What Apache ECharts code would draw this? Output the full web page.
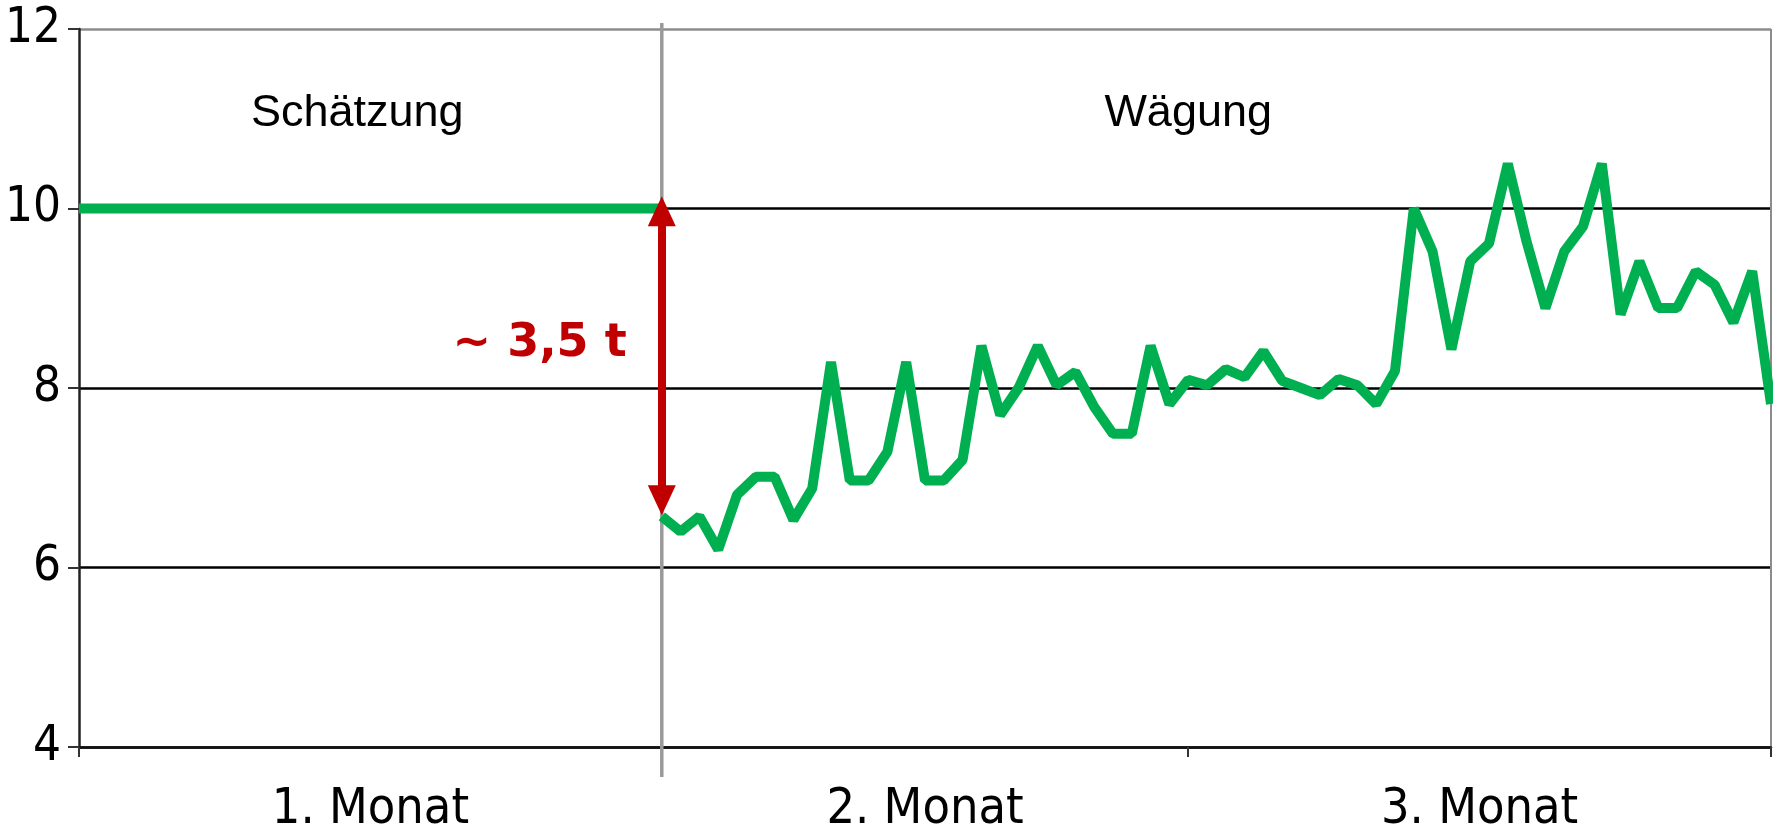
<!DOCTYPE html>
<html>
<head>
<meta charset="utf-8">
<script src="https://cdn.jsdelivr.net/npm/echarts@6/dist/echarts.min.js"></script>
<style>
html,body{margin:0;padding:0;background:#ffffff;}
#chart{width:1773px;height:835px;}
</style>
</head>
<body>
<div id="chart"></div>
<script>
// ---- data ----
const monthLabels = ['1. Monat', '2. Monat', '3. Monat'];
const monthDays = [31, 28, 31];
const yMin = 4;
const yMax = 12;
const yStep = 2;

const schaetzungStartDay = 0;
const schaetzungValues = [10, 10, 10, 10, 10, 10, 10, 10, 10, 10, 10, 10, 10, 10, 10, 10,
                          10, 10, 10, 10, 10, 10, 10, 10, 10, 10, 10, 10, 10, 10, 10, 10];

const waegungStartDay = 31;
const waegungValues = [6.57, 6.40, 6.57, 6.20, 6.81, 7.01, 7.01, 6.53, 6.88, 8.29,
                       6.97, 6.97, 7.29, 8.29, 6.97, 6.97, 7.20, 8.47, 7.70, 8.01,
                       8.47, 8.03, 8.18, 7.79, 7.49, 7.49, 8.47, 7.82, 8.09, 8.03,
                       8.21, 8.12, 8.41, 8.08, 8.00, 7.92, 8.10, 8.03, 7.82, 8.19,
                       10.00, 9.52, 8.43, 9.41, 9.61, 10.50, 9.63, 8.89, 9.52, 9.80,
                       10.50, 8.82, 9.41, 8.89, 8.89, 9.30, 9.15, 8.73, 9.30, 7.82];

const separatorDay = 31;
const arrowDay = 31;
const arrowFrom = 9.97;
const arrowTo = 6.75;
const arrowText = '~ 3,5 t';
const arrowTextPos = [24.5, 8.49];
const phaseTexts = ['Schätzung', 'Wägung'];
const phaseTextPos = [[14.8, 11.06], [59.0, 11.06]];

// ---- derived ----
const monthBounds = [0];
monthDays.forEach(d => monthBounds.push(monthBounds[monthBounds.length - 1] + d));
const monthCenters = monthDays.map((d, i) => monthBounds[i] + d / 2);
const totalDays = monthBounds[monthBounds.length - 1];
const schaetzungData = schaetzungValues.map((v, i) => [schaetzungStartDay + i, v]);
const waegungData = waegungValues.map((v, i) => [waegungStartDay + i, v]);

function monthLabelFor(v) {
  for (let i = 0; i < monthCenters.length; i++) {
    if (Math.abs(monthCenters[i] - v) < 1e-6) return monthLabels[i];
  }
  return '';
}

const GREEN = '#00B050';
const RED = '#C00000';

const chart = echarts.init(document.getElementById('chart'), null, {renderer: 'canvas'});

const option = {
  animation: false,
  backgroundColor: '#ffffff',
  grid: [
    {left: 79, right: 2, top: 29, bottom: 84, containLabel: false},
    {left: 79, right: 2, top: 23, bottom: 58, containLabel: false}
  ],
  xAxis: [
    {
      type: 'value', gridIndex: 0, min: 0, max: totalDays,
      axisLine: {show: true, lineStyle: {color: '#111', width: 2.5}},
      axisTick: {show: true, customValues: monthBounds, length: 10, inside: false,
                 lineStyle: {color: '#333', width: 2}},
      axisLabel: {
        show: true, customValues: monthCenters, margin: 38,
        formatter: (v) => monthLabelFor(v),
        fontFamily: '"DejaVu Sans Condensed", "DejaVu Sans", sans-serif',
        fontSize: 50, color: '#000'
      },
      splitLine: {show: true, lineStyle: {
        color: ['rgba(0,0,0,0)', 'rgba(0,0,0,0)', 'rgba(0,0,0,0)', '#8c8c8c'], width: 2}}
    },
    {type: 'value', gridIndex: 1, min: 0, max: totalDays, show: false}
  ],
  yAxis: [
    {
      type: 'value', gridIndex: 0, min: yMin, max: yMax, interval: yStep,
      axisLine: {show: true, lineStyle: {color: '#222', width: 2.5}},
      axisTick: {show: true, length: 11, lineStyle: {color: '#333', width: 2}},
      axisLabel: {
        show: true, margin: 18,
        fontFamily: '"Liberation Sans Narrow", "Arial Narrow", "DejaVu Sans Condensed", sans-serif',
        fontSize: 49, color: '#000'
      },
      splitLine: {show: true, lineStyle: {
        color: ['#000', '#000', '#000', '#000', '#8c8c8c'], width: 2.5}}
    },
    {type: 'value', gridIndex: 1, min: 0, max: 1, show: false}
  ],
  series: [
    {
      name: 'Trennlinie', type: 'line', xAxisIndex: 1, yAxisIndex: 1,
      data: [[separatorDay, 0], [separatorDay, 1]],
      showSymbol: false, symbol: 'none', silent: true, z: 1,
      lineStyle: {color: '#9a9a9a', width: 3.5}
    },
    {
      name: 'Schätzung', type: 'line', xAxisIndex: 0, yAxisIndex: 0,
      data: schaetzungData, showSymbol: false, symbol: 'none', z: 3,
      lineStyle: {color: GREEN, width: 10}
    },
    {
      name: 'Wägung', type: 'line', xAxisIndex: 0, yAxisIndex: 0,
      data: waegungData, showSymbol: false, symbol: 'none', z: 3,
      lineStyle: {color: GREEN, width: 10},
      markLine: {
        silent: true, z: 5,
        symbol: ['triangle', 'triangle'], symbolSize: [28, 30],
        label: {show: false},
        lineStyle: {color: RED, width: 8, type: 'solid'},
        data: [[{coord: [arrowDay, arrowFrom]}, {coord: [arrowDay, arrowTo]}]]
      },
      markPoint: {
        silent: true, symbol: 'rect', symbolSize: 0,
        data: [
          {coord: phaseTextPos[0], label: {show: true, position: 'inside', formatter: phaseTexts[0],
            fontFamily: '"Liberation Sans", Arial, sans-serif', fontSize: 45, color: '#000'}},
          {coord: phaseTextPos[1], label: {show: true, position: 'inside', formatter: phaseTexts[1],
            fontFamily: '"Liberation Sans", Arial, sans-serif', fontSize: 45, color: '#000'}},
          {coord: arrowTextPos, label: {show: true, position: 'inside', formatter: arrowText,
            fontFamily: 'Verdana, "DejaVu Sans", sans-serif', fontWeight: 'bold', fontSize: 46, color: RED}}
        ]
      }
    }
  ]
};
chart.setOption(option);
</script>
</body>
</html>
